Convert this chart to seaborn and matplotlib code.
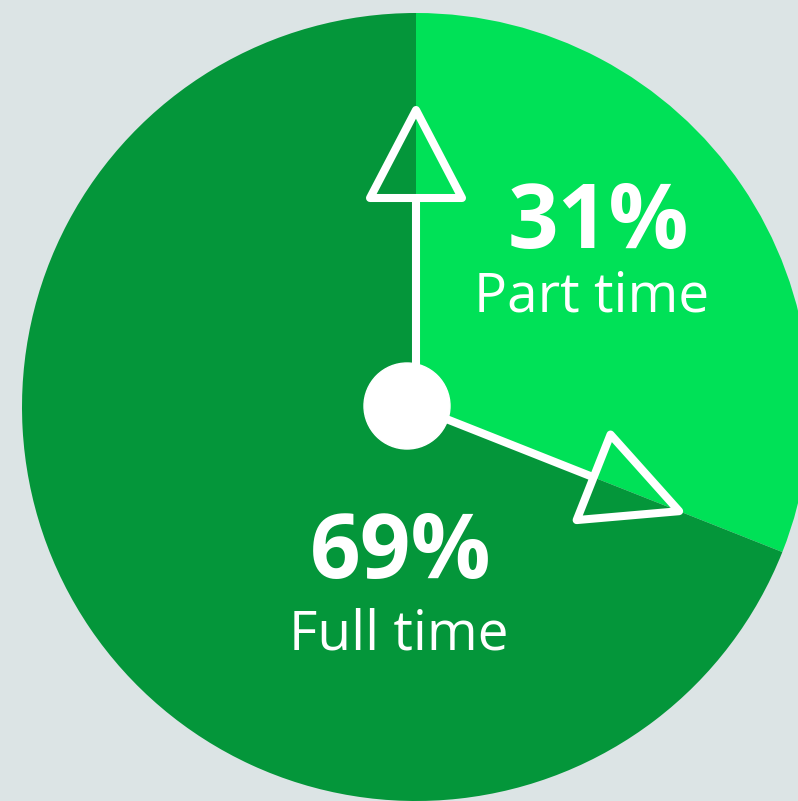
import numpy as np
import seaborn as sns
import matplotlib.pyplot as plt
from matplotlib.patches import Polygon, Circle

# data
labels = ['Part time', 'Full time']
shares = [31, 69]
pct_labels = ['31%', '69%']
colors = ['#00E157', '#04963A']

sns.set_theme(style='white')
plt.rcParams['font.family'] = ['Open Sans', 'DejaVu Sans']

W, H = 798, 801
fig = plt.figure(figsize=(W / 100, H / 100), dpi=100, facecolor='#DCE4E5')
ax = fig.add_axes([0, 0, 1, 1])
ax.set_facecolor('#DCE4E5')

cx, cy, r = 416, H - 407, 394
ax.pie(shares, colors=colors, startangle=90, counterclock=False,
       center=(cx, cy), radius=r, frame=True,
       wedgeprops=dict(linewidth=0))
ax.set_xlim(0, W)
ax.set_ylim(0, H)
ax.set_aspect('equal')
ax.axis('off')

# clock-hand arrows: one at 12 o'clock, one along the part-time boundary
boundary = 90 - shares[0] / sum(shares) * 360
hands = [(90, 209, 297), (boundary, 191, 283)]
for ang, base, tip in hands:
    a = np.deg2rad(ang)
    d = np.array([np.cos(a), np.sin(a)])
    n = np.array([-d[1], d[0]])
    c = np.array([cx, cy])
    bm = c + d * base
    ax.plot([cx, bm[0]], [cy, bm[1]], color='white', lw=5.8,
            solid_capstyle='butt', zorder=3)
    tri = [c + d * tip, bm + n * 46, bm - n * 46]
    ax.add_patch(Polygon(tri, closed=True, fill=False, edgecolor='white',
                         lw=5.8, joinstyle='round', zorder=4))

ax.add_patch(Circle((407, H - 406), 43, color='white', zorder=5))

# labels
ax.text(598, H - 225, pct_labels[0], color='white', fontsize=64,
        fontweight='bold', ha='center', va='center')
ax.text(592, H - 297, labels[0], color='white', fontsize=39.5,
        ha='center', va='center')
ax.text(401, H - 555, pct_labels[1], color='white', fontsize=64,
        fontweight='bold', ha='center', va='center')
ax.text(399, H - 635, labels[1], color='white', fontsize=39.5,
        ha='center', va='center')

fig.savefig('out.png', dpi=100, facecolor=fig.get_facecolor())
